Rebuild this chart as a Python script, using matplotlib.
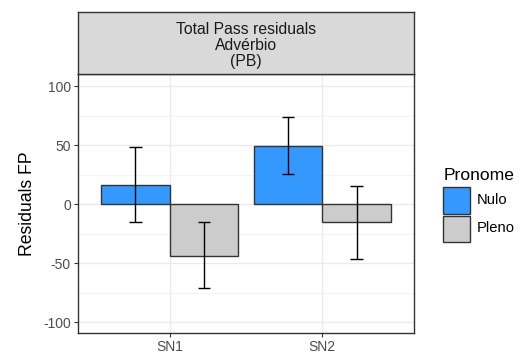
import matplotlib
matplotlib.use("Agg")
import matplotlib.pyplot as plt
from matplotlib.patches import Rectangle
import numpy as np

plt.rcParams['font.family'] = ['Liberation Sans', 'DejaVu Sans']
plt.rcParams['axes.unicode_minus'] = False

categories = ["SN1", "SN2"]
groups = ["Nulo", "Pleno"]
values = {"Nulo": [16.5, 49.7], "Pleno": [-43.6, -15.0]}
err_low = {"Nulo": [-14.8, 25.5], "Pleno": [-71.2, -46.0]}
err_high = {"Nulo": [48.7, 73.9], "Pleno": [-15.0, 15.9]}
colors = {"Nulo": "#3399FF", "Pleno": "#CCCCCC"}
yticks = [-100, -50, 0, 50, 100]

W, H = 522, 358
fig = plt.figure(figsize=(W / 100, H / 100), dpi=100)

px_l, px_r, px_t, px_b = 78, 414, 74, 333
ax = fig.add_axes([px_l / W, 1 - px_b / H, (px_r - px_l) / W, (px_b - px_t) / H])

x = np.arange(1, len(categories) + 1)
bw = 0.45
for i, g in enumerate(groups):
    xs = x + (i - 0.5) * bw
    ax.bar(xs, values[g], width=bw, color=colors[g], edgecolor="#333333",
           linewidth=1.0, zorder=3, label=g)
    lo = np.array(err_low[g])
    hi = np.array(err_high[g])
    ax.vlines(xs, lo, hi, color="black", linewidth=1.0, zorder=4)
    cap = 0.042
    ax.hlines(lo, xs - cap, xs + cap, color="black", linewidth=1.0, zorder=4)
    ax.hlines(hi, xs - cap, xs + cap, color="black", linewidth=1.0, zorder=4)

ax.set_xlim(0.4, 2.6)
ax.set_ylim(-109, 110.5)
ax.set_xticks(x)
ax.set_xticklabels(categories)
ax.set_yticks(yticks)
ax.set_yticks([-75, -25, 25, 75], minor=True)
ax.grid(which="major", color="#EBEBEB", linewidth=1.0, zorder=0)
ax.grid(which="minor", axis="y", color="#F2F2F2", linewidth=0.6, zorder=0)
ax.set_axisbelow(True)
ax.tick_params(which="major", length=3.2, width=0.8, color="#333333",
               labelcolor="#4D4D4D", labelsize=10, pad=2)
ax.tick_params(which="minor", length=0)
for s in ax.spines.values():
    s.set_color("#333333")
    s.set_linewidth(1.0)
ax.set_ylabel("Residuals FP", fontsize=12.7, color="black", labelpad=5)

# strip
sax = fig.add_axes([px_l / W, 1 - px_t / H, (px_r - px_l) / W, (px_t - 12) / H])
sax.set_facecolor("#D9D9D9")
sax.set_xticks([])
sax.set_yticks([])
for s in sax.spines.values():
    s.set_color("#333333")
    s.set_linewidth(1.0)
sax.text(0.5, 1 - (45.5 - 12) / 62, "Total Pass residuals\nAdvérbio\n(PB)", ha="center",
         va="center", fontsize=11.3, color="#1A1A1A", transform=sax.transAxes,
         linespacing=1.07)

# legend
fig.text(444 / W, 1 - 175 / H, "Pronome", fontsize=12.6, va="center", ha="left")
for i, g in enumerate(groups):
    top = 187 + i * 28.5
    fig.patches.append(Rectangle((443 / W, 1 - (top + 26.5) / H), 27 / W, 26.5 / H,
                                 transform=fig.transFigure, facecolor=colors[g],
                                 edgecolor="#333333", linewidth=1.0))
    fig.text(476.5 / W, 1 - (top + 13) / H, g, fontsize=10.6, va="center", ha="left")

fig.savefig("out.png", dpi=100)
